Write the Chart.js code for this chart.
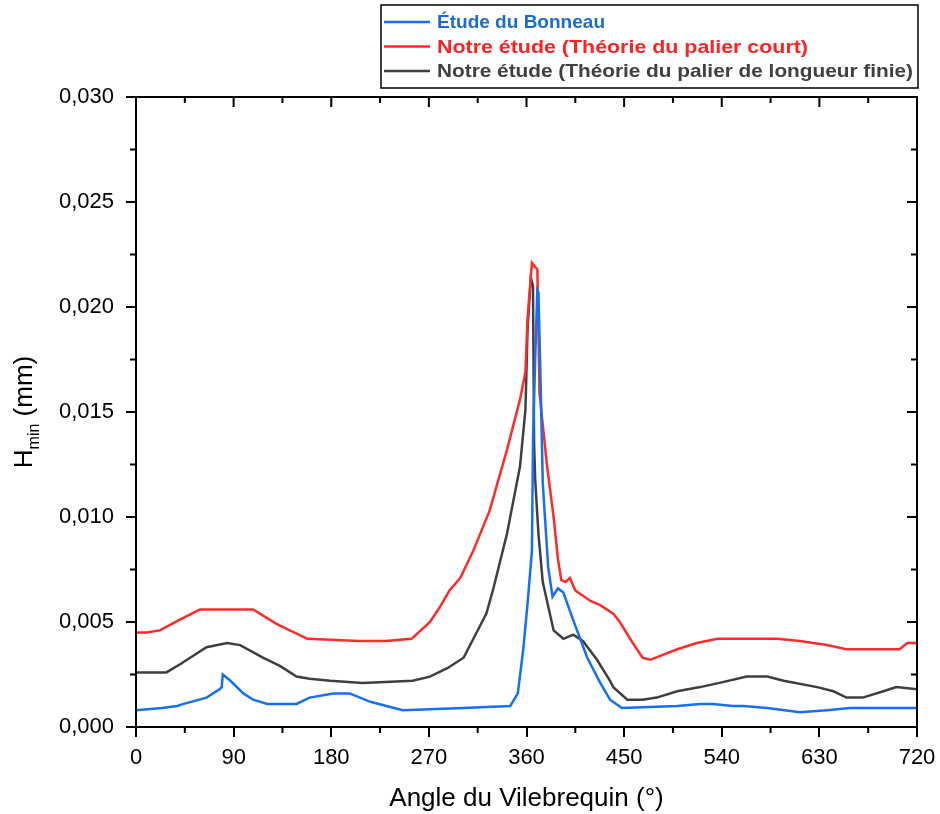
<!DOCTYPE html>
<html>
<head>
<meta charset="utf-8">
<script src="https://cdn.jsdelivr.net/npm/chart.js@4.4.0/dist/chart.umd.min.js"></script>
<style>
  html, body { margin: 0; padding: 0; background: #fff; }
  #wrap { width: 940px; height: 814px; }
</style>
</head>
<body>
<div id="wrap"><canvas id="hminChart" width="940" height="814"></canvas></div>
<script>
// Vilebrequin angle (deg) and minimum film thickness (mm) for each study
const bonneauAngle = [0, 24, 38, 44, 65, 77, 79, 80, 87, 99, 108, 121, 148, 160, 182, 197, 216, 231, 246, 302,
  345, 352, 357, 361, 365, 366, 368, 370, 371, 373, 375, 380, 384, 389, 394, 403, 416, 428, 437, 448,
  499, 520, 532, 550, 560, 582, 612, 637, 658, 720];
const bonneauHmin = [0.0008, 0.0009, 0.0010, 0.0011, 0.0014, 0.0018, 0.0019, 0.0025, 0.0022, 0.0016,
  0.0013, 0.0011, 0.0011, 0.0014, 0.0016, 0.0016, 0.0012, 0.0010, 0.0008, 0.0009,
  0.0010, 0.0016, 0.0037, 0.0059, 0.0084, 0.0137, 0.0175, 0.0208, 0.0207, 0.0164,
  0.0116, 0.0076, 0.0062, 0.0066, 0.0064, 0.0051, 0.0033, 0.0021, 0.0013, 0.0009,
  0.0010, 0.0011, 0.0011, 0.0010, 0.0010, 0.0009, 0.0007, 0.0008, 0.0009, 0.0009];

const courtAngle = [0, 10, 22, 40, 59, 108, 130, 158, 206, 230, 254, 271, 280, 289, 299, 311, 326, 342, 354, 359,
  361, 365, 368, 370, 372, 379, 385, 389, 392, 396, 400, 405, 419, 428, 440, 446, 458, 467, 474, 499,
  517, 536, 557, 591, 612, 637, 655, 704, 711, 720];
const courtHmin = [0.0045, 0.0045, 0.0046, 0.0051, 0.0056, 0.0056, 0.0049, 0.0042, 0.0041, 0.0041,
  0.0042, 0.0050, 0.0057, 0.0065, 0.0071, 0.0084, 0.0103, 0.0132, 0.0156, 0.0169,
  0.0195, 0.0221, 0.0219, 0.0218, 0.0159, 0.0124, 0.0100, 0.0080, 0.0070, 0.0069,
  0.0071, 0.0065, 0.0060, 0.0058, 0.0054, 0.0050, 0.0040, 0.0033, 0.0032, 0.0037,
  0.0040, 0.0042, 0.0042, 0.0042, 0.0041, 0.0039, 0.0037, 0.0037, 0.0040, 0.0040];

const finieAngle = [0, 28, 41, 65, 84, 96, 117, 133, 148, 160, 179, 209, 255, 271, 287, 302, 314, 323, 329, 342,
  354, 359, 361, 364, 366, 367, 368, 371, 375, 385, 394, 403, 412, 425, 437, 440, 453, 467, 480, 499,
  520, 538, 563, 582, 597, 628, 643, 655, 670, 689, 701, 720];
const finieHmin = [0.0026, 0.0026, 0.0030, 0.0038, 0.0040, 0.0039, 0.0033, 0.0029, 0.0024, 0.0023,
  0.0022, 0.0021, 0.0022, 0.0024, 0.0028, 0.0033, 0.0045, 0.0054, 0.0065, 0.0092,
  0.0124, 0.0151, 0.0190, 0.0214, 0.0210, 0.0135, 0.0118, 0.0092, 0.0069, 0.0046,
  0.0042, 0.0044, 0.0041, 0.0032, 0.0022, 0.0019, 0.0013, 0.0013, 0.0014, 0.0017,
  0.0019, 0.0021, 0.0024, 0.0024, 0.0022, 0.0019, 0.0017, 0.0014, 0.0014, 0.0017,
  0.0019, 0.0018];

const seriesLabels = [
  'Étude du Bonneau',
  'Notre étude (Théorie du palier court)',
  'Notre étude (Théorie du palier de longueur finie)'
];
const lineColors = ['#1670f0', '#ff2b2b', '#3f3f3f'];
const textColors = ['#1a6cd0', '#ff2222', '#404040'];
// legend text widths in px
const legendWidths = [168, 371, 476];

const xTicks = [0, 90, 180, 270, 360, 450, 540, 630, 720];
const yTicks = [0, 0.005, 0.010, 0.015, 0.020, 0.025, 0.030];

const FONT = '"Liberation Sans", Arial, sans-serif';

function toPoints(xs, ys) {
  return xs.map((x, i) => ({ x: x, y: ys[i] }));
}

// Box frame, minor ticks, inner ticks on top/right, y title and legend
const decorPlugin = {
  id: 'decor',
  afterDraw(chart) {
    const ctx = chart.ctx;
    const a = chart.chartArea;
    const xs = chart.scales.x;
    const ys = chart.scales.y;
    ctx.save();
    ctx.strokeStyle = '#000';
    ctx.lineWidth = 2;
    ctx.strokeRect(a.left, a.top, a.right - a.left, a.bottom - a.top);

    ctx.beginPath();
    // minor ticks on x
    for (let v = 45; v < 720; v += 90) {
      const px = xs.getPixelForValue(v);
      ctx.moveTo(px, a.bottom); ctx.lineTo(px, a.bottom + 6);
      ctx.moveTo(px, a.top); ctx.lineTo(px, a.top + 6);
    }
    xTicks.forEach(v => {
      const px = xs.getPixelForValue(v);
      ctx.moveTo(px, a.top); ctx.lineTo(px, a.top + 10);
    });
    // minor ticks on y
    for (let v = 0.0025; v < 0.03; v += 0.005) {
      const py = ys.getPixelForValue(v);
      ctx.moveTo(a.left, py); ctx.lineTo(a.left - 6, py);
      ctx.moveTo(a.right, py); ctx.lineTo(a.right - 6, py);
    }
    yTicks.forEach(v => {
      const py = ys.getPixelForValue(v);
      ctx.moveTo(a.right, py); ctx.lineTo(a.right - 10, py);
    });
    ctx.stroke();

    // y axis title with subscript
    ctx.fillStyle = '#000';
    ctx.translate(32, (a.top + a.bottom) / 2);
    ctx.rotate(-Math.PI / 2);
    ctx.textBaseline = 'alphabetic';
    ctx.font = '26px ' + FONT;
    const hW = ctx.measureText('H').width;
    ctx.font = '16px ' + FONT;
    const subW = ctx.measureText('min').width;
    ctx.font = '26px ' + FONT;
    const restW = ctx.measureText(' (mm)').width;
    let sx = -(hW + subW + restW) / 2;
    ctx.fillText('H', sx, 0);
    sx += hW;
    ctx.font = '16px ' + FONT;
    ctx.fillText('min', sx, 7);
    sx += subW;
    ctx.font = '26px ' + FONT;
    ctx.fillText(' (mm)', sx, 0);
    ctx.restore();

    // legend box
    ctx.save();
    ctx.strokeStyle = '#000';
    ctx.lineWidth = 1.5;
    ctx.fillStyle = '#fff';
    ctx.fillRect(381, 5, 537, 83);
    ctx.strokeRect(381, 5, 537, 83);
    ctx.font = 'bold 19px ' + FONT;
    ctx.textBaseline = 'middle';
    seriesLabels.forEach((lbl, i) => {
      const yy = 22 + i * 24.5;
      ctx.strokeStyle = lineColors[i];
      ctx.lineWidth = 2.5;
      ctx.beginPath();
      ctx.moveTo(384, yy); ctx.lineTo(430, yy);
      ctx.stroke();
      ctx.fillStyle = textColors[i];
      const k = legendWidths[i] / ctx.measureText(lbl).width;
      ctx.save();
      ctx.translate(437, yy + 1);
      ctx.scale(k, 1);
      ctx.fillText(lbl, 0, 0);
      ctx.restore();
    });
    ctx.restore();
  }
};

document.addEventListener('DOMContentLoaded', function() {
  const ctx = document.getElementById('hminChart').getContext('2d');
  const sets = [
    [bonneauAngle, bonneauHmin],
    [courtAngle, courtHmin],
    [finieAngle, finieHmin]
  ];
  new Chart(ctx, {
    type: 'scatter',
    data: {
      datasets: sets.map((s, i) => ({
        label: seriesLabels[i],
        data: toPoints(s[0], s[1]),
        showLine: true,
        borderColor: lineColors[i],
        backgroundColor: lineColors[i],
        borderWidth: 2.5,
        pointRadius: 0,
        tension: 0,
        order: i === 0 ? 0 : i + 1
      }))
    },
    options: {
      responsive: false,
      animation: false,
      layout: { padding: { top: 97, right: 23, left: 0, bottom: 0 } },
      plugins: {
        legend: { display: false },
        tooltip: { enabled: false }
      },
      scales: {
        x: {
          type: 'linear',
          min: 0,
          max: 720,
          afterFit(scale) {
            scale.height = 87;
            scale.paddingLeft = 0;
            scale.paddingRight = 0;
          },
          afterBuildTicks(scale) { scale.ticks = xTicks.map(v => ({ value: v })); },
          grid: { display: true, drawOnChartArea: false, drawTicks: true, tickLength: 10, color: '#000', lineWidth: 2 },
          border: { display: true, color: '#000', width: 2 },
          ticks: {
            color: '#000',
            font: { family: FONT, size: 22 },
            padding: 8,
            maxRotation: 0
          },
          title: {
            display: true,
            text: 'Angle du Vilebrequin (°)',
            color: '#000',
            font: { family: FONT, size: 26 },
            padding: { top: 2, bottom: 0 }
          }
        },
        y: {
          min: 0,
          max: 0.03,
          afterFit(scale) {
            scale.width = 136;
            scale.paddingTop = 0;
            scale.paddingBottom = 0;
          },
          afterBuildTicks(scale) { scale.ticks = yTicks.map(v => ({ value: v })); },
          grid: { display: true, drawOnChartArea: false, drawTicks: true, tickLength: 10, color: '#000', lineWidth: 2 },
          border: { display: true, color: '#000', width: 2 },
          ticks: {
            color: '#000',
            font: { family: FONT, size: 22 },
            padding: 12,
            callback: v => v.toFixed(3).replace('.', ',')
          }
        }
      }
    },
    plugins: [decorPlugin]
  });
});
</script>
</body>
</html>
